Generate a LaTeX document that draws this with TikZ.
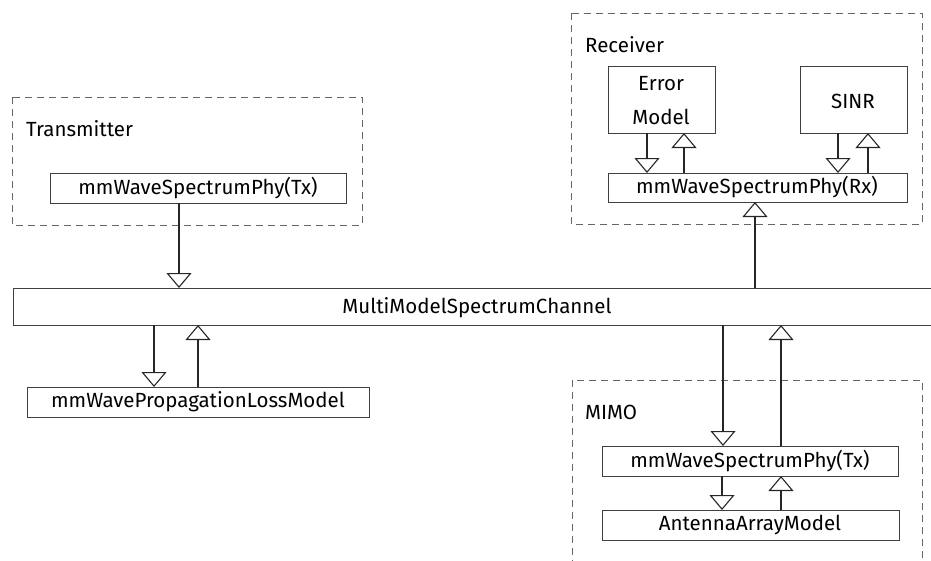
\documentclass[tikz,border=0pt]{standalone}
\usepackage{fontspec}
\setmainfont{Fira Sans}
\usetikzlibrary{arrows.meta}
\begin{document}
\begin{tikzpicture}[x=1pt,y=-1pt,
  every node/.style={font=\fontsize{20.5}{24}\selectfont, inner sep=0pt},
  box/.style={draw=black!75, line width=0.9pt},
  group/.style={draw=black!60, line width=0.9pt, dash pattern=on 7pt off 5pt},
  flow/.style={line width=1.1pt, black!85, -{Triangle[open,length=15pt,width=25pt,line width=1.1pt]}},
  lbl/.style={anchor=base west}]
\useasboundingbox (0,0) rectangle (931,560);
\clip (0,0) rectangle (931,560);

% dashed grouping frames
\draw[group] (12,97) rectangle (362,225);
\draw[group] (571,13) rectangle (922,224);
\draw[group] (572,380) rectangle (922,600);
\node[lbl] (ttx) at (26,136) {Transmitter};
\node[lbl] (trx) at (585,52) {Receiver};
\node[lbl] (tmimo) at (585,419) {MIMO};

% boxes
\draw[box] (50,173) rectangle (346,203);
\node (tx) at (198,188) {mmWaveSpectrumPhy(Tx)};
\draw[box] (13,288) rectangle (960,325);
\node (ch) at (477,308) {MultiModelSpectrumChannel};
\draw[box] (27,387) rectangle (369,417);
\node (prop) at (198,402) {mmWavePropagationLossModel};
\draw[box] (608,66) rectangle (715,133);
\node[align=center, font=\fontsize{20.5}{34}\selectfont] (err) at (661,101) {Error\\Model};
\draw[box] (800,66) rectangle (907,133);
\node (sinr) at (853,101) {SINR};
\draw[box] (608,173) rectangle (907,202);
\node (rx) at (757,187) {mmWaveSpectrumPhy(Rx)};
\draw[box] (602,446) rectangle (898,476);
\node (tx2) at (750,461) {mmWaveSpectrumPhy(Tx)};
\draw[box] (602,510) rectangle (899,540);
\node (ant) at (750,525) {AntennaArrayModel};

% connectors
\coordinate (a1) at (179,203); \coordinate (a2) at (179,288);
\draw[flow] (a1) -- (a2);
\coordinate (b1) at (154,325); \coordinate (b2) at (154,387);
\draw[flow] (b1) -- (b2);
\coordinate (c1) at (198,387); \coordinate (c2) at (198,325);
\draw[flow] (c1) -- (c2);
\coordinate (d1) at (755,288); \coordinate (d2) at (755,202);
\draw[flow] (d1) -- (d2);
\coordinate (e1) at (647,133); \coordinate (e2) at (647,173);
\draw[flow] (e1) -- (e2);
\coordinate (f1) at (684,173); \coordinate (f2) at (684,133);
\draw[flow] (f1) -- (f2);
\coordinate (g1) at (838,133); \coordinate (g2) at (838,173);
\draw[flow] (g1) -- (g2);
\coordinate (h1) at (868,173); \coordinate (h2) at (868,133);
\draw[flow] (h1) -- (h2);
\coordinate (i1) at (723,325); \coordinate (i2) at (723,446);
\draw[flow] (i1) -- (i2);
\coordinate (j1) at (781,446); \coordinate (j2) at (781,325);
\draw[flow] (j1) -- (j2);
\coordinate (k1) at (722,476); \coordinate (k2) at (722,510);
\draw[flow] (k1) -- (k2);
\coordinate (l1) at (781,510); \coordinate (l2) at (781,476);
\draw[flow] (l1) -- (l2);
\end{tikzpicture}
\end{document}
